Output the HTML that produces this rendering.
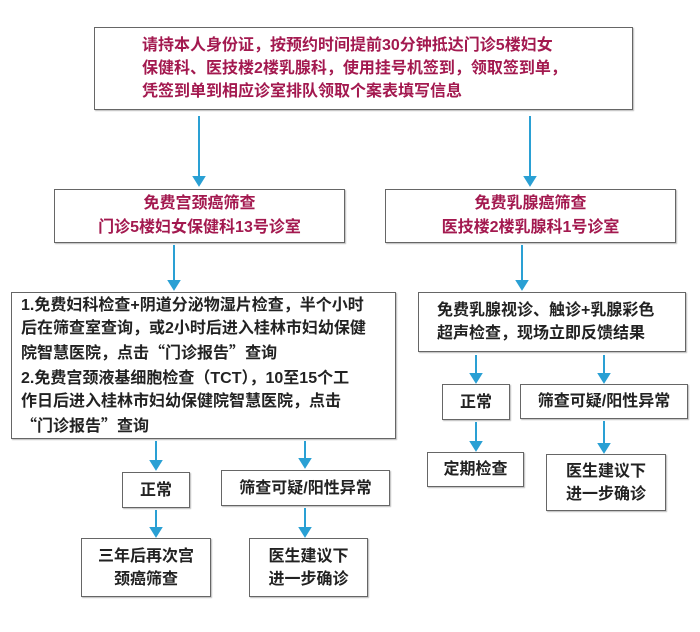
<!DOCTYPE html>
<html><head><meta charset="utf-8"><style>
body{margin:0;width:700px;height:632px;background:#fff;position:relative;overflow:hidden;font-family:"Liberation Sans","Noto Sans CJK SC",sans-serif;font-weight:bold;}
.b{position:absolute;border:1.5px solid #666;box-sizing:border-box;box-shadow:1px 1px 1px #bbb;background:#fff;color:#222;font-size:16px;display:flex;flex-direction:column;justify-content:center;align-items:center;text-align:center;line-height:23px;}
.m{color:#a3194f;}
.l{align-items:flex-start;text-align:left;}
.q{font-family:"Noto Sans CJK SC",sans-serif;}
svg{position:absolute;left:0;top:0;}
</style></head><body>
<svg width="700" height="632">
<g stroke="#2aa0d4" stroke-width="2" fill="#2aa0d4">
<line x1="199" y1="116" x2="199" y2="178"/><polygon points="194,177 204,177 199,185"/>
<line x1="530" y1="116" x2="530" y2="178"/><polygon points="525,177 535,177 530,185"/>
<line x1="174" y1="245" x2="174" y2="282"/><polygon points="169,281 179,281 174,289"/>
<line x1="522" y1="245" x2="522" y2="282"/><polygon points="517,281 527,281 522,289"/>
<line x1="156" y1="441" x2="156" y2="462"/><polygon points="151,461 161,461 156,469"/>
<line x1="305" y1="441" x2="305" y2="460"/><polygon points="300,459 310,459 305,467"/>
<line x1="156" y1="510" x2="156" y2="529"/><polygon points="151,528 161,528 156,536"/>
<line x1="305" y1="508" x2="305" y2="529"/><polygon points="300,528 310,528 305,536"/>
<line x1="476" y1="355" x2="476" y2="375"/><polygon points="471,374 481,374 476,382"/>
<line x1="604" y1="355" x2="604" y2="375"/><polygon points="599,374 609,374 604,382"/>
<line x1="476" y1="422" x2="476" y2="443"/><polygon points="471,442 481,442 476,450"/>
<line x1="604" y1="421" x2="604" y2="445"/><polygon points="599,444 609,444 604,452"/>
</g></svg>
<div class="b m l" style="left:94px;top:27px;width:539px;height:83px;padding-left:47px;line-height:23px;"><div>请持本人身份证，按预约时间提前30分钟抵达门诊5楼妇女<br>保健科、医技楼2楼乳腺科，使用挂号机签到，领取签到单，<br>凭签到单到相应诊室排队领取个案表填写信息</div></div>
<div class="b m" style="left:54px;top:189px;width:291px;height:54px;line-height:24px;">免费宫颈癌筛查<br>门诊5楼妇女保健科13号诊室</div>
<div class="b m" style="left:385px;top:189px;width:291px;height:54px;line-height:24px;">免费乳腺癌筛查<br>医技楼2楼乳腺科1号诊室</div>
<div class="b l" style="left:11px;top:292px;width:385px;height:147px;padding-left:9px;"><div>1.免费妇科检查+阴道分泌物湿片检查，半个小时<br>后在筛查室查询，或2小时后进入桂林市妇幼保健<br>院智慧医院，点击<span class="q">“</span>门诊报告<span class="q">”</span>查询<br>2.免费宫颈液基细胞检查<span class="q">（</span>TCT<span class="q">）</span>，10至15个工<br>作日后进入桂林市妇幼保健院智慧医院，点击<br><span class="q">“</span>门诊报告<span class="q">”</span>查询</div></div>
<div class="b l" style="left:418px;top:292px;width:268px;height:60px;padding-left:18px;"><div>免费乳腺视诊、触诊+乳腺彩色<br>超声检查，现场立即反馈结果</div></div>
<div class="b" style="left:122px;top:472px;width:68px;height:36px;">正常</div>
<div class="b" style="left:221px;top:470px;width:169px;height:36px;">筛查可疑/阳性异常</div>
<div class="b" style="left:81px;top:538px;width:130px;height:59px;">三年后再次宫<br>颈癌筛查</div>
<div class="b" style="left:249px;top:538px;width:119px;height:59px;">医生建议下<br>进一步确诊</div>
<div class="b" style="left:442px;top:384px;width:68px;height:36px;">正常</div>
<div class="b" style="left:520px;top:384px;width:168px;height:35px;">筛查可疑/阳性异常</div>
<div class="b" style="left:427px;top:452px;width:97px;height:35px;">定期检查</div>
<div class="b" style="left:546px;top:454px;width:120px;height:57px;">医生建议下<br>进一步确诊</div>
</body></html>
